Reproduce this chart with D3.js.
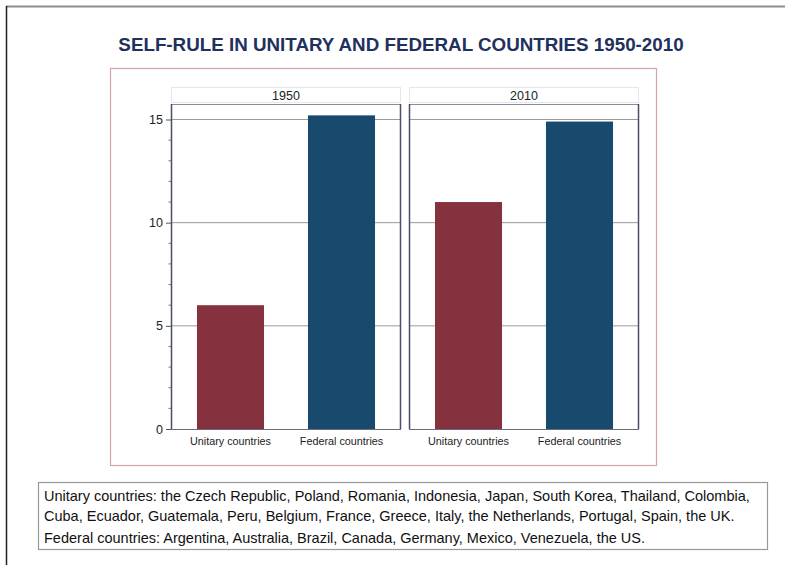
<!DOCTYPE html>
<html><head><meta charset="utf-8">
<script src="https://cdn.jsdelivr.net/npm/d3@7"></script>
<style>body{margin:0;background:#fff}svg{display:block}text{font-family:"Liberation Sans",Arial,sans-serif}</style>
</head><body>
<script>
const years = ["1950", "2010"];
const categories = ["Unitary countries", "Federal countries"];
const values1950 = [6.0, 15.2];
const values2010 = [11.0, 14.9];
const yTicks = [0, 5, 10, 15];
const colors = ["#86323e", "#174a6c"];
const titleText = "SELF-RULE IN UNITARY AND FEDERAL COUNTRIES 1950-2010";
const noteLines = [
  "Unitary countries: the Czech Republic, Poland, Romania, Indonesia, Japan, South Korea, Thailand, Colombia,",
  "Cuba, Ecuador, Guatemala, Peru, Belgium, France, Greece, Italy, the Netherlands, Portugal, Spain, the UK.",
  "Federal countries: Argentina, Australia, Brazil, Canada, Germany, Mexico, Venezuela, the US."
];
const series = [values1950, values2010];

const W = 785, H = 565;
const svg = d3.select("body").append("svg").attr("width", W).attr("height", H);

// outer frame lines
svg.append("line").attr("x1", 6).attr("x2", W).attr("y1", 6.5).attr("y2", 6.5).attr("stroke", "#8c8c8c").attr("stroke-width", 2);
svg.append("line").attr("x1", 6.5).attr("x2", 6.5).attr("y1", 6).attr("y2", H).attr("stroke", "#222").attr("stroke-width", 1.5);

// title
svg.append("text").attr("x", 401).attr("y", 50.5).attr("text-anchor", "middle")
  .attr("font-size", 18.8).attr("font-weight", "bold").attr("fill", "#22305e").text(titleText);

// pink box
svg.append("rect").attr("x", 110.5).attr("y", 68.5).attr("width", 546).attr("height", 397)
  .attr("fill", "none").attr("stroke", "#d8a3a6").attr("stroke-width", 1.2);

const y = d3.scaleLinear().domain([0, 15]).range([429, 119.5]);
const panels = [{x0: 171, x1: 401}, {x0: 409, x1: 639}];
const stripTop = 87, plotTop = 104;

panels.forEach((p, i) => {
  const g = svg.append("g");
  // strip
  g.append("rect").attr("x", p.x0 + 0.5).attr("y", stripTop + 0.5).attr("width", p.x1 - p.x0 - 1).attr("height", plotTop - stripTop - 2)
    .attr("fill", "#fff").attr("stroke", "#e4e6ee");
  g.append("text").attr("x", (p.x0 + p.x1) / 2).attr("y", stripTop + 13).attr("text-anchor", "middle")
    .attr("font-size", 12.5).attr("fill", "#222").text(years[i]);
  const x = d3.scaleBand().domain(categories).range([p.x0, p.x1]).paddingInner(0.396).paddingOuter(0.234);
  // grid
  g.selectAll(".grid").data(yTicks.filter(t => t > 0)).join("line")
    .attr("x1", p.x0).attr("x2", p.x1).attr("y1", d => y(d)).attr("y2", d => y(d))
    .attr("stroke", "#9a9a9a").attr("stroke-width", 1);
  // frame top
  g.append("line").attr("x1", p.x0).attr("x2", p.x1).attr("y1", plotTop + 0.5).attr("y2", plotTop + 0.5).attr("stroke", "#8a8c96");
  // bars
  g.selectAll(".bar").data(series[i]).join("rect")
    .attr("x", (d, j) => x(categories[j])).attr("width", x.bandwidth())
    .attr("y", d => y(d)).attr("height", d => y(0) - y(d))
    .attr("fill", (d, j) => colors[j]);
  // frame sides
  g.append("line").attr("x1", p.x1 - 0.5).attr("x2", p.x1 - 0.5).attr("y1", plotTop).attr("y2", y(0)).attr("stroke", "#4a4e68").attr("stroke-width", 1.5);
  g.append("line").attr("x1", p.x0 + 0.5).attr("x2", p.x0 + 0.5).attr("y1", plotTop).attr("y2", y(0)).attr("stroke", "#4a4e68").attr("stroke-width", 1.5);
  g.append("line").attr("x1", p.x0).attr("x2", p.x1).attr("y1", y(0) + 0.5).attr("y2", y(0) + 0.5).attr("stroke", "#6a6c7a").attr("stroke-width", 1);
  // x axis labels
  const xa = d3.axisBottom(x).tickSize(0).tickPadding(8);
  const xg = g.append("g").attr("transform", `translate(0,${y(0)})`).call(xa);
  xg.select(".domain").remove();
  xg.selectAll("text").attr("font-size", 10.8).attr("fill", "#222").attr("font-family", "Liberation Sans, Arial, sans-serif");
  if (i === 0) {
    const ya = d3.axisLeft(y).tickValues(yTicks).tickSize(5).tickPadding(3).tickFormat(d3.format("d"));
    const yg = g.append("g").attr("transform", `translate(${p.x0},0)`).call(ya);
    yg.select(".domain").remove();
    yg.selectAll("line").attr("stroke", "#555");
    yg.selectAll("text").attr("font-size", 12.5).attr("fill", "#222").attr("font-family", "Liberation Sans, Arial, sans-serif");
    const minor = d3.range(0, 16).filter(v => v % 5 !== 0);
    g.selectAll(".minor").data(minor).join("line")
      .attr("x1", p.x0 - 2.5).attr("x2", p.x0).attr("y1", d => y(d)).attr("y2", d => y(d))
      .attr("stroke", "#777");
  }
});

// note box
svg.append("rect").attr("x", 38.5).attr("y", 482.5).attr("width", 729).attr("height", 67)
  .attr("fill", "#fff").attr("stroke", "#999").attr("stroke-width", 1.2);
const ny = [501, 521, 543];
noteLines.forEach((t, i) => {
  svg.append("text").attr("x", 44).attr("y", ny[i]).attr("font-size", 14.5).attr("fill", "#111").text(t);
});
</script>
</body></html>
